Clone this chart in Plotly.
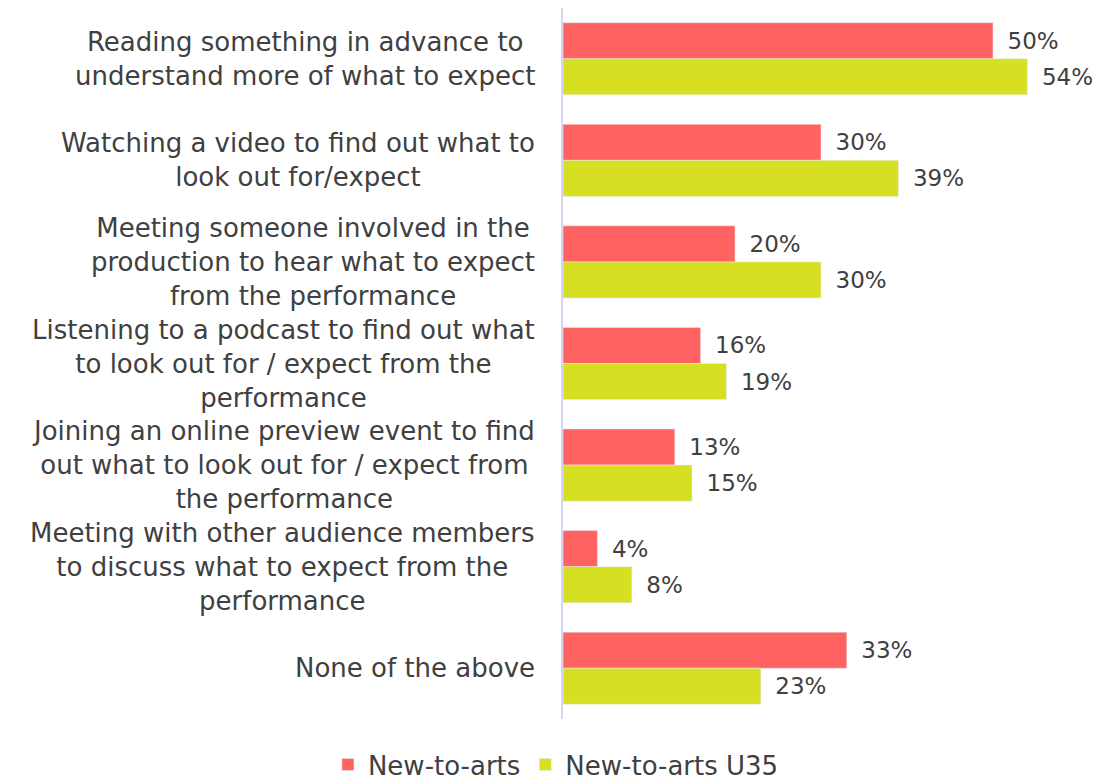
import plotly.graph_objects as go

CATEGORIES = [
    'Reading something in advance to<br>understand more of what to expect',
    'Watching a video to find out what to<br>look out for/expect',
    'Meeting someone involved in the<br>production to hear what to expect<br>from the performance',
    'Listening to a podcast to find out what<br>to look out for / expect from the<br>performance',
    'Joining an online preview event to find<br>out what to look out for / expect from<br>the performance',
    'Meeting with other audience members<br>to discuss what to expect from the<br>performance',
    'None of the above',
]
NEW_TO_ARTS = [50, 30, 20, 16, 13, 4, 33]
NEW_TO_ARTS_U35 = [54, 39, 30, 19, 15, 8, 23]

SERIES = [
    ('New-to-arts', NEW_TO_ARTS, '#FF6361'),
    ('New-to-arts U35', NEW_TO_ARTS_U35, '#D7DF23'),
]

TEXT_COLOR = '#404040'
FONT = 'DejaVu Sans'

fig = go.Figure()
for name, values, color in SERIES:
    fig.add_trace(go.Bar(
        name=name,
        y=CATEGORIES,
        x=values,
        orientation='h',
        marker_color=color,
        text=[f'\u2002{v}%' for v in values],
        textposition='outside',
        textfont=dict(size=23, color=TEXT_COLOR, family=FONT),
        cliponaxis=False,
    ))

# centred multi-line category labels
for cat in CATEGORIES:
    fig.add_annotation(
        x=0, xref='paper', y=cat, yref='y',
        text=cat, showarrow=False,
        xanchor='right', xshift=-26, align='center',
        font=dict(size=26, color=TEXT_COLOR, family=FONT),
    )

fig.update_layout(
    width=1085,
    height=776,
    barmode='group',
    bargap=0.29,
    bargroupgap=0,
    paper_bgcolor='white',
    plot_bgcolor='white',
    font=dict(family=FONT, color=TEXT_COLOR, size=24),
    margin=dict(l=555, r=14, t=0, b=65),
    showlegend=True,
    legend=dict(
        orientation='h',
        xref='container', x=0.505, xanchor='center',
        yref='container', y=0.025, yanchor='middle',
        font=dict(size=26, color=TEXT_COLOR, family=FONT),
        itemwidth=30,
    ),
)
fig.update_xaxes(range=[0, 60], visible=False)
fig.update_yaxes(
    autorange='reversed',
    showticklabels=False,
    showgrid=False,
    zeroline=False,
    showline=True,
    linecolor='#D9D4F3',
    linewidth=2,
)

fig.write_html('out.html')
